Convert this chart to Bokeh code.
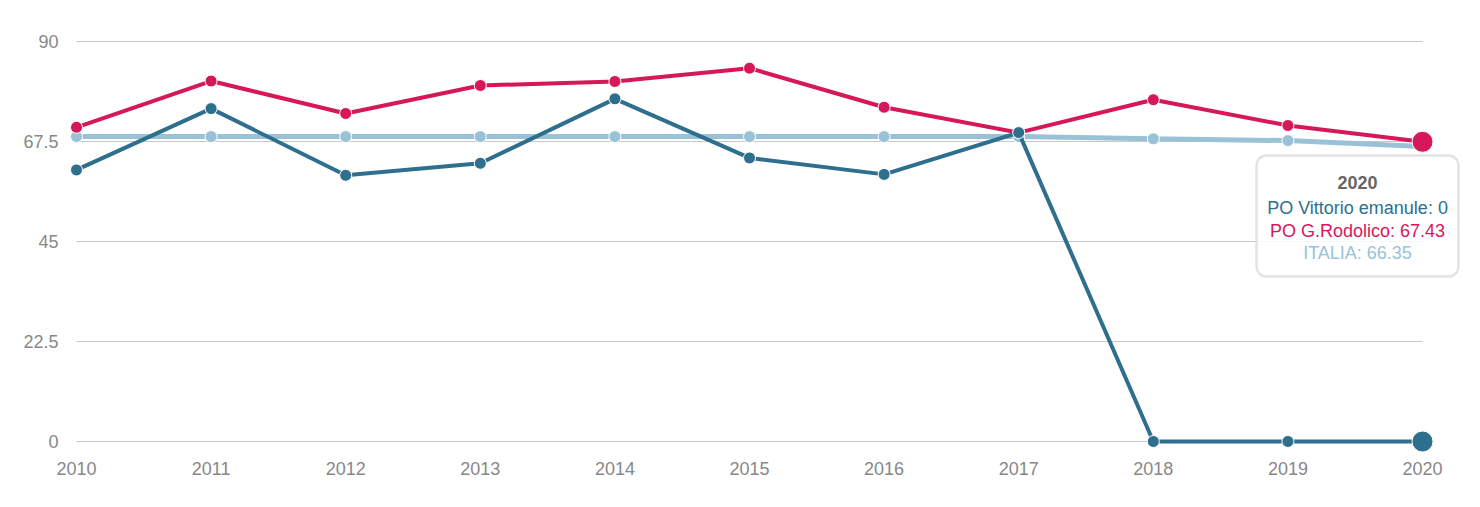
from bokeh.plotting import figure
from bokeh.models import Range1d, FixedTicker, NumeralTickFormatter, BoxAnnotation
from bokeh.core.properties import value
from bokeh.embed import file_html
from bokeh.resources import INLINE

years = [2010, 2011, 2012, 2013, 2014, 2015, 2016, 2017, 2018, 2019, 2020]
vittorio = [61.1, 74.9, 59.9, 62.6, 77.1, 63.8, 60.1, 69.5, 0, 0, 0]
rodolico = [70.7, 81.1, 73.8, 80.1, 81.0, 84.0, 75.2, 69.5, 76.9, 71.1, 67.43]
italia = [68.6, 68.6, 68.6, 68.6, 68.6, 68.6, 68.6, 68.6, 68.1, 67.7, 66.35]
names = ["PO Vittorio emanule", "PO G.Rodolico", "ITALIA"]
yticks = [0, 22.5, 45, 67.5, 90]

C_DARK = "#2f6f8e"
C_RED = "#d6175a"
C_LIGHT = "#99c2d7"
FONT = "Liberation Sans"

p = figure(width=1464, height=491,
           x_range=Range1d(2009.9257, 2020.297),
           y_range=Range1d(-3.15, 92.475),
           output_backend="svg", toolbar_location=None,
           min_border_left=66, min_border_right=2,
           min_border_top=30, min_border_bottom=36)
p.outline_line_color = None
p.xgrid.visible = False
p.ygrid.visible = False

# horizontal grid lines spanning the category extent
n = len(yticks)
p.segment(x0=[years[0]] * n, y0=yticks, x1=[years[-1]] * n, y1=yticks,
          line_color="#c8c8c8", line_width=1)

for ax in (p.xaxis[0], p.yaxis[0]):
    ax.axis_line_color = None
    ax.major_tick_line_color = None
    ax.minor_tick_line_color = None
    ax.major_label_text_color = "#888888"
    ax.major_label_text_font = FONT
    ax.major_label_text_font_size = "18px"
p.xaxis.ticker = FixedTicker(ticks=years)
p.yaxis.ticker = FixedTicker(ticks=yticks)
p.yaxis.formatter = NumeralTickFormatter(format="0.[0]")
p.xaxis.major_label_standoff = 0
p.yaxis.major_label_standoff = 2

# series (ITALIA beneath, then Rodolico, then Vittorio)
p.line(years, italia, line_color=C_LIGHT, line_width=5)
p.scatter(years, italia, size=12, fill_color=C_LIGHT, line_color="white", line_width=1)

p.line(years, rodolico, line_color=C_RED, line_width=4)
p.scatter(years, rodolico, size=12, fill_color=C_RED, line_color="white", line_width=1)

p.line(years, vittorio, line_color=C_DARK, line_width=4)
p.scatter(years, vittorio, size=12, fill_color=C_DARK, line_color="white", line_width=1)

# hovered points at the last year
p.scatter([years[-1]], [rodolico[-1]], size=21, fill_color=C_RED, line_color="white", line_width=1)
p.scatter([years[-1]], [vittorio[-1]], size=21, fill_color=C_DARK, line_color="white", line_width=1)

# tooltip
box = BoxAnnotation(left=2018.767, right=2020.267, top=64.35, bottom=37.13,
                    fill_color="white", fill_alpha=0.85,
                    line_color="#e3e3e3", line_alpha=1.0, line_width=2.5, border_radius=10)
p.add_layout(box)

tx = 2019.517
t1 = p.text(x=[tx], y=[58.34], text=[str(years[-1])], text_color="#666666",
            text_font=value(FONT), text_font_size="18px", text_font_style="bold",
            text_align="center", text_baseline="middle")
lines = [f"{names[0]}: {vittorio[-1]:g}", f"{names[1]}: {rodolico[-1]:g}", f"{names[2]}: {italia[-1]:g}"]
t2 = p.text(x=[tx] * 3, y=[52.6, 47.45, 42.4], text=lines, text_color=[C_DARK, C_RED, C_LIGHT],
            text_font=value(FONT), text_font_size="18px",
            text_align="center", text_baseline="middle")
t1.level = "overlay"
t2.level = "overlay"

open("out.html", "w").write(file_html(p, INLINE))
